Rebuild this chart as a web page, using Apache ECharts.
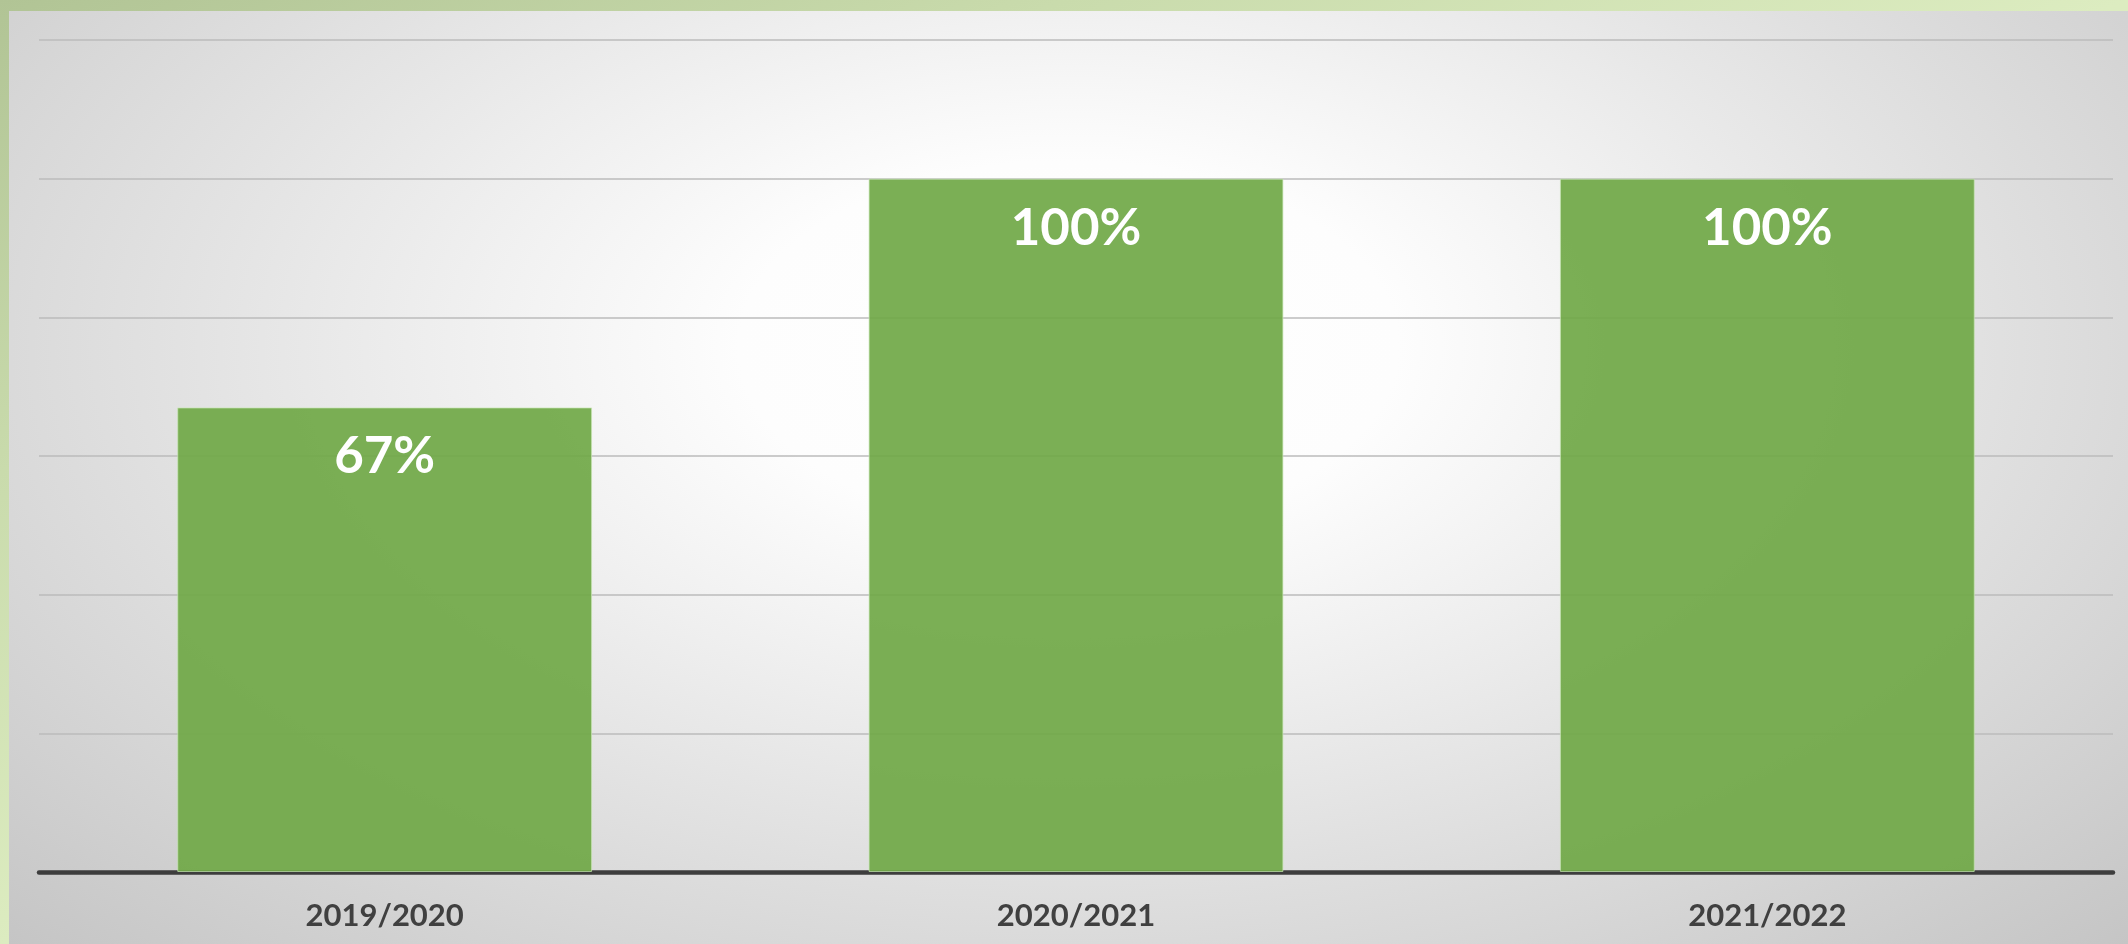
<!DOCTYPE html>
<html>
<head>
<meta charset="utf-8">
<script src="https://cdn.jsdelivr.net/npm/echarts@6/dist/echarts.min.js"></script>
<style>
  html, body {
    margin: 0;
    padding: 0;
    width: 2128px;
    height: 944px;
    overflow: hidden;
    background: linear-gradient(to bottom right, #b1c495 0%, #c9dbac 25%, #dcecc0 50%, #dcecc0 100%);
  }
  #chart {
    position: absolute;
    left: 9px;
    top: 11px;
    width: 2119px;
    height: 933px;
    background: radial-gradient(ellipse at 50% 36%, #ffffff 0%, #fdfdfd 22%, #e3e3e3 58%, #c5c5c5 100%);
  }
</style>
</head>
<body>
<div id="chart"></div>
<script>
  const categories = ['2019/2020', '2020/2021', '2021/2022']
  const values = [67, 100, 100]
  const yMin = 0
  const yMax = 120
  const yInterval = 20

  const chart = echarts.init(document.getElementById('chart'))

  chart.setOption({
    backgroundColor: 'transparent',
    animation: false,
    grid: {
      left: 30,
      right: 15,
      top: 29,
      bottom: 72
    },
    xAxis: {
      type: 'category',
      data: categories,
      axisLine: { lineStyle: { color: '#3d3d3d', width: 4.5 } },
      axisTick: { show: false },
      axisLabel: {
        color: '#404040',
        fontFamily: 'Lato',
        fontWeight: 'bold',
        fontSize: 31,
        margin: 28
      }
    },
    yAxis: {
      type: 'value',
      min: yMin,
      max: yMax,
      interval: yInterval,
      axisLine: { show: false },
      axisTick: { show: false },
      axisLabel: { show: false },
      splitLine: { lineStyle: { color: '#bbbbbb', width: 1.5 } }
    },
    series: [{
      type: 'bar',
      data: values,
      barWidth: '60%',
      itemStyle: {
        color: 'rgba(112, 168, 71, 0.92)',
        borderColor: 'rgba(200, 230, 180, 0.7)',
        borderWidth: 1
      },
      label: {
        show: true,
        position: 'insideTop',
        distance: 24,
        formatter: '{c}%',
        color: '#ffffff',
        fontFamily: 'Lato',
        fontWeight: 'bold',
        fontSize: 51
      }
    }]
  })
</script>
</body>
</html>
